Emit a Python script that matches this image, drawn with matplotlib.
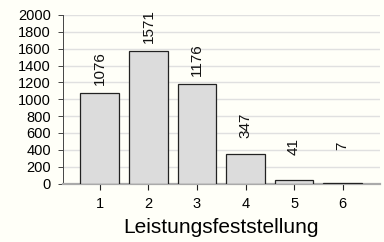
import matplotlib
matplotlib.use("Agg")
import matplotlib.pyplot as plt

# Data
grades = [1, 2, 3, 4, 5, 6]
counts = [1076, 1571, 1176, 347, 41, 7]
yticks = list(range(0, 2001, 200))

plt.rcParams['font.family'] = ['Liberation Sans', 'DejaVu Sans']
bg = '#fffff8'

fig = plt.figure(figsize=(3.84, 2.42), dpi=100, facecolor=bg)
ax = fig.add_axes([62.5 / 384, 1 - 183.5 / 242, (380 - 62.5) / 384, (183.5 - 15) / 242])
ax.set_facecolor(bg)

ax.bar(grades, counts, width=0.8, color='#dcdcdc', edgecolor='#222222', linewidth=0.9, zorder=3)
# labels hang from a fixed height above each bar
for g, c in zip(grades, counts):
    ax.annotate(str(c), (g, c), xytext=(0, 30), textcoords='offset points',
                rotation=90, ha='center', va='top', fontsize=11, color='#111111')

ax.set_xlim(0.23, 6.77)
ax.set_ylim(0, 2000)
ax.set_yticks(yticks)
ax.set_xticks(grades)
ax.yaxis.grid(True, color='#e0e0e0', linewidth=1.0, zorder=0)
ax.set_axisbelow(True)

for s in ['top', 'right']:
    ax.spines[s].set_visible(False)
ax.spines['left'].set_color('#444444')
ax.spines['left'].set_linewidth(0.7)
ax.spines['bottom'].set_color('#aaaaaa')
ax.spines['bottom'].set_linewidth(1.6)

ax.tick_params(axis='y', length=3.4, width=0.7, color='#444444', labelsize=10.5, pad=5)
ax.tick_params(axis='x', length=4, width=0.8, color='#222222', labelsize=10.5, pad=6)
ax.set_xlabel('Leistungsfeststellung', fontsize=15, labelpad=5)

fig.savefig('out.png', dpi=100, facecolor=bg)
